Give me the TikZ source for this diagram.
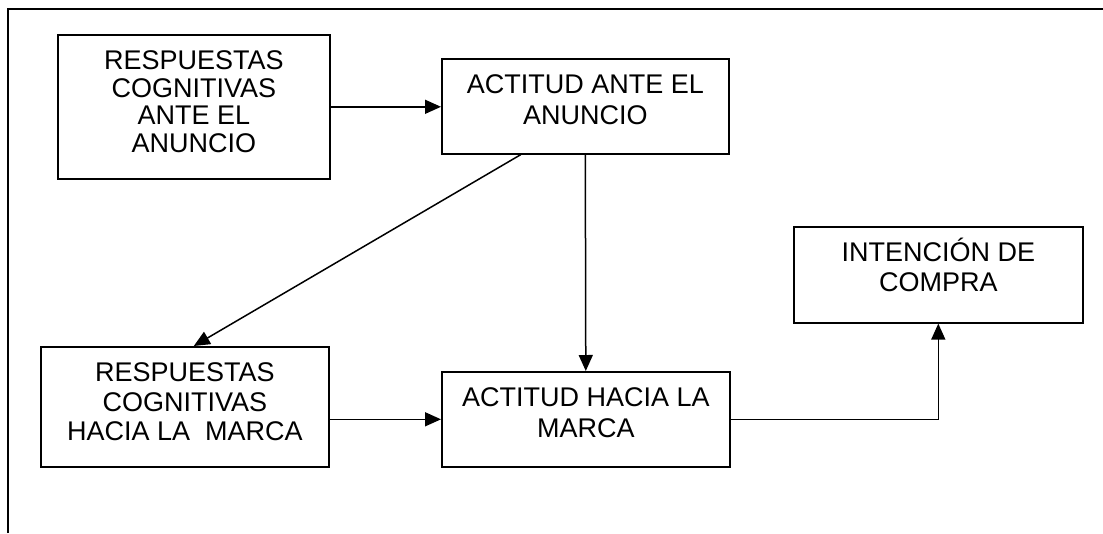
\documentclass[tikz,border=0pt]{standalone}
\usepackage{fontspec}
\setmainfont{Liberation Sans}
\usetikzlibrary{arrows.meta}
\newcommand{\bxt}[4]{\parbox[b][#2][t]{#1}{\centering\fontsize{27pt}{#3}\selectfont\rule{0pt}{35pt}#4}}
\begin{document}
\begin{tikzpicture}[x=1pt,y=-1pt,
  box/.style={draw=black, line width=1.6pt, inner sep=0pt, anchor=north west},
  conn/.style={draw=black, line width=1.5pt, -{Triangle[length=16pt,width=14pt]}}]
\useasboundingbox (0,0) rectangle (1103,533);
\draw[line width=2pt] (7.5,533) -- (7.5,8.5) -- (1103,8.5);
\node[box] (b1) at (57,34) {\bxt{272pt}{144pt}{27.5pt}{RESPUESTAS\\COGNITIVAS\\ANTE EL\\ANUNCIO}};
\node[box] (b2) at (441,58) {\bxt{287pt}{95pt}{31pt}{ACTITUD ANTE EL\\ANUNCIO}};
\node[box] (b3) at (40,346) {\bxt{288pt}{120pt}{29.5pt}{RESPUESTAS\\COGNITIVAS\\HACIA LA~~MARCA}};
\node[box] (b4) at (441,371) {\bxt{288pt}{95pt}{31pt}{ACTITUD HACIA LA\\MARCA}};
\node[box] (b5) at (793,226) {\bxt{289pt}{96pt}{30pt}{INTENCIÓN DE\\COMPRA}};
\draw[conn] (b1.east) -- (b1.east -| b2.west);
\draw[conn] ([xshift=-64.5pt]b2.south) -- ([xshift=9pt]b3.north);
\draw[conn] (b2.south) -- (b4.north);
\draw[conn] (b3.east |- b4.west) -- (b4.west);
\draw[conn] (b4.east) -| (b5.south);
\end{tikzpicture}
\end{document}
